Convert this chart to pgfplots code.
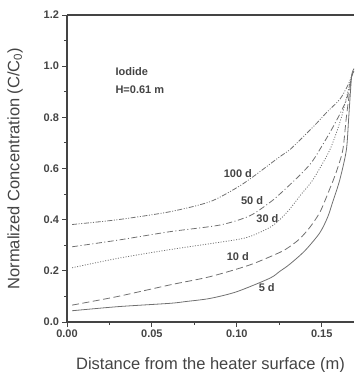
\documentclass[border=0pt]{standalone}
\usepackage{fontspec}
\setmainfont{Liberation Sans}
\usepackage{pgfplots}
\pgfplotsset{compat=1.18}
\definecolor{axgray}{HTML}{444444}
\definecolor{curvegray}{HTML}{707070}
\begin{document}
\begin{tikzpicture}
\begin{axis}[
  scale only axis,
  width=287pt, height=307pt,
  xmin=0, xmax=0.169, ymin=0, ymax=1.2,
  axis x line=box, axis y line=left,
  axis line style={-, draw=axgray, line width=1.2pt},
  xtick={0,0.05,0.10,0.15},
  ytick={0,0.2,0.4,0.6,0.8,1.0,1.2},
  minor xtick={0.025,0.075,0.125},
  minor ytick={0.1,0.3,0.5,0.7,0.9,1.1},
  xtick pos=left, ytick pos=left,
  tick align=outside,
  major tick length=4.5pt, minor tick length=2.5pt,
  every tick/.style={draw=axgray, line width=0.9pt},
  /pgf/number format/assume math mode=true,
  xticklabel style={/pgf/number format/.cd, fixed, fixed zerofill, precision=2},
  yticklabel style={/pgf/number format/.cd, fixed, fixed zerofill, precision=1},
  tick label style={font=\bfseries\fontsize{11}{13}\selectfont, text=axgray},
  xlabel={Distance from the heater surface (m)},
  ylabel={Normalized Concentration (C/C\textsubscript{0})},
  label style={font=\fontsize{16.5}{19}\selectfont, text=axgray},
  xlabel style={at={(axis description cs:0.5,-0.140)}, anchor=center},
  ylabel style={at={(axis description cs:-0.181,0.5)}, anchor=center},
  clip=true,
]
% 5 d
\addplot[curvegray, line width=0.8pt, no markers, smooth, tension=0.45, solid] coordinates {(0.003,0.044)(0.03,0.060)(0.0606,0.073)(0.0700,0.080)(0.0841,0.092)(0.0998,0.118)(0.1194,0.171)(0.1253,0.198)(0.131,0.225)(0.14,0.278)(0.1488,0.348)(0.1535,0.41)(0.1565,0.470)(0.1606,0.555)(0.1645,0.672)(0.1659,0.80)(0.1676,0.96)(0.169,0.99)};
% 10 d
\addplot[curvegray, line width=0.8pt, no markers, smooth, tension=0.45, dash pattern=on 7pt off 3.5pt] coordinates {(0.003,0.066)(0.03,0.10)(0.0606,0.145)(0.0841,0.177)(0.1076,0.223)(0.1253,0.272)(0.131,0.294)(0.137,0.325)(0.143,0.37)(0.149,0.43)(0.1547,0.520)(0.1585,0.585)(0.1624,0.672)(0.1645,0.80)(0.1676,0.96)(0.169,0.99)};
% 30 d
\addplot[curvegray, line width=0.8pt, no markers, smooth, tension=0.45, dash pattern=on 1pt off 1.6pt] coordinates {(0.003,0.212)(0.03,0.249)(0.0606,0.283)(0.10,0.322)(0.11,0.340)(0.12,0.372)(0.1253,0.40)(0.131,0.44)(0.138,0.50)(0.1447,0.555)(0.1547,0.672)(0.1616,0.80)(0.1676,0.96)(0.169,0.98)};
% 50 d
\addplot[curvegray, line width=0.8pt, no markers, smooth, tension=0.45, dash pattern=on 6pt off 2.5pt on 1pt off 2.5pt] coordinates {(0.003,0.294)(0.03,0.32)(0.0606,0.353)(0.09,0.379)(0.1076,0.415)(0.12,0.47)(0.1253,0.50)(0.131,0.535)(0.138,0.58)(0.145,0.633)(0.1567,0.763)(0.1645,0.868)(0.1676,0.96)(0.169,0.98)};
% 100 d
\addplot[curvegray, line width=0.8pt, no markers, smooth, tension=0.45, dash pattern=on 5pt off 1.6pt on 1pt off 1.6pt on 1pt off 1.6pt] coordinates {(0.003,0.381)(0.03,0.40)(0.0606,0.431)(0.0841,0.47)(0.10,0.525)(0.1096,0.568)(0.1253,0.646)(0.131,0.672)(0.145,0.763)(0.153,0.82)(0.1606,0.87)(0.165,0.92)(0.1676,0.96)(0.169,0.98)};
\begin{scope}[every node/.style={font=\bfseries\fontsize{11}{13}\selectfont, text=axgray}]
\node at (axis cs:0.1006,0.582) {100 d};
\node at (axis cs:0.109,0.473) {50 d};
\node at (axis cs:0.118,0.403) {30 d};
\node at (axis cs:0.1006,0.254) {10 d};
\node at (axis cs:0.1176,0.133) {5 d};
\node[anchor=west] at (axis cs:0.0265,0.977) {Iodide};
\node[anchor=west] at (axis cs:0.0265,0.907) {H=0.61 m};
\end{scope}
\end{axis}
\pgfresetboundingbox
\path ([xshift=-67pt,yshift=-50pt]current axis.south west) rectangle ([yshift=15pt]current axis.north east);
\end{tikzpicture}
\end{document}
